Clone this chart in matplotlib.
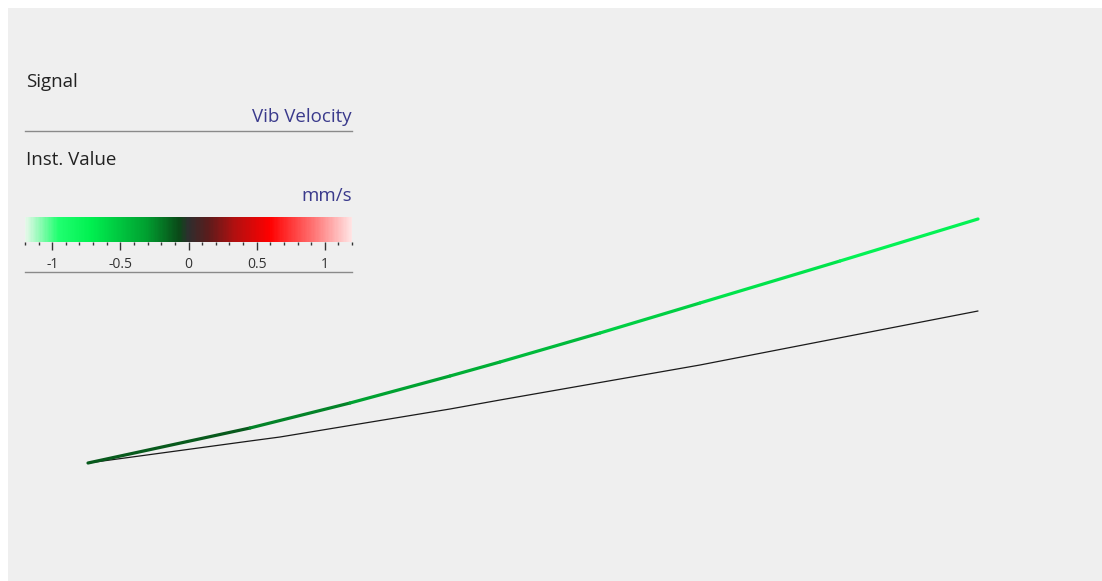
import numpy as np
import matplotlib
matplotlib.use("Agg")
import matplotlib.pyplot as plt
from matplotlib.colors import LinearSegmentedColormap, Normalize
from matplotlib.collections import LineCollection
from matplotlib.patches import Rectangle
from matplotlib.ticker import MultipleLocator
import matplotlib.colorbar as mcolorbar

plt.rcParams['font.family'] = ['Open Sans', 'DejaVu Sans']

# deflection shape: measured trace (green, coloured by velocity) and reference trace
shape_x = [88, 250, 350, 450, 500, 600, 700, 840, 978]
shape_y = [463, 428, 403, 376, 362, 333, 303, 261, 219]
shape_vel = [-0.05, -0.18, -0.28, -0.36, -0.4, -0.5, -0.6, -0.7, -0.8]

ref_x = [88, 250, 280, 450, 500, 700, 978]
ref_y = [463, 441, 437, 409, 400, 365, 311]

signal_name = "Vib Velocity"
unit = "mm/s"
scale_min, scale_max = -1.2, 1.2
scale_ticks = [-1, -0.5, 0, 0.5, 1]
scale_labels = ["-1", "-0.5", "0", "0.5", "1"]

W, H = 1102, 581
fig = plt.figure(figsize=(W / 100, H / 100), dpi=100)
fig.patch.set_facecolor("white")

cmap = LinearSegmentedColormap.from_list("vib", [
    (0.00, "#e6f8ea"),
    (0.10, "#20ff70"),
    (0.20, "#00f050"),
    (0.37, "#00a030"),
    (0.47, "#0a4a18"),
    (0.50, "#2e2e2e"),
    (0.56, "#5a1c1c"),
    (0.64, "#b01010"),
    (0.75, "#ff0000"),
    (0.88, "#ff7070"),
    (1.00, "#ffe4e4"),
])
norm = Normalize(scale_min, scale_max)

ax = fig.add_axes([0, 0, 1, 1])
ax.set_xlim(0, W)
ax.set_ylim(H, 0)
ax.axis("off")
ax.add_patch(Rectangle((8, 8), W - 8, H - 8, facecolor="#efefef", edgecolor="none", zorder=0))

ax.plot(ref_x, ref_y, color="#1a1a1a", lw=0.9, solid_capstyle="round", zorder=2)

pts = np.column_stack([shape_x, shape_y])
segs = np.stack([pts[:-1], pts[1:]], axis=1)
seg_vals = (np.array(shape_vel[:-1]) + np.array(shape_vel[1:])) / 2
lc = LineCollection(segs, cmap=cmap, norm=norm, linewidths=2.3, capstyle="round",
                    joinstyle="round", zorder=3)
lc.set_array(seg_vals)
ax.add_collection(lc)

# legend panel
ax.text(26, 82, "Signal", fontsize=13.5, color="#222222", va="center", ha="left")
ax.text(352, 117, signal_name, fontsize=13.5, color="#3a3a8c", va="center", ha="right")
ax.plot([25, 352], [131, 131], color="#8a8a8a", lw=1)
ax.text(26, 160, "Inst. Value", fontsize=13.5, color="#222222", va="center", ha="left")
ax.text(352, 196, unit, fontsize=13.5, color="#3a3a8c", va="center", ha="right")
ax.plot([25, 352], [272, 272], color="#8a8a8a", lw=1)

cax = fig.add_axes([25 / W, 1 - 242 / H, 327 / W, 25 / H])
cb = mcolorbar.ColorbarBase(cax, cmap=cmap, norm=norm, orientation="horizontal")
cb.outline.set_visible(False)
cb.set_ticks(scale_ticks)
cb.set_ticklabels(scale_labels)
cax.xaxis.set_minor_locator(MultipleLocator(0.1))
cax.tick_params(which="major", length=6, width=1, color="#333333", labelsize=10,
                labelcolor="#333333", pad=5)
cax.tick_params(which="minor", length=2, width=1, color="#333333")

fig.savefig("out.png", dpi=100, facecolor=fig.get_facecolor())
